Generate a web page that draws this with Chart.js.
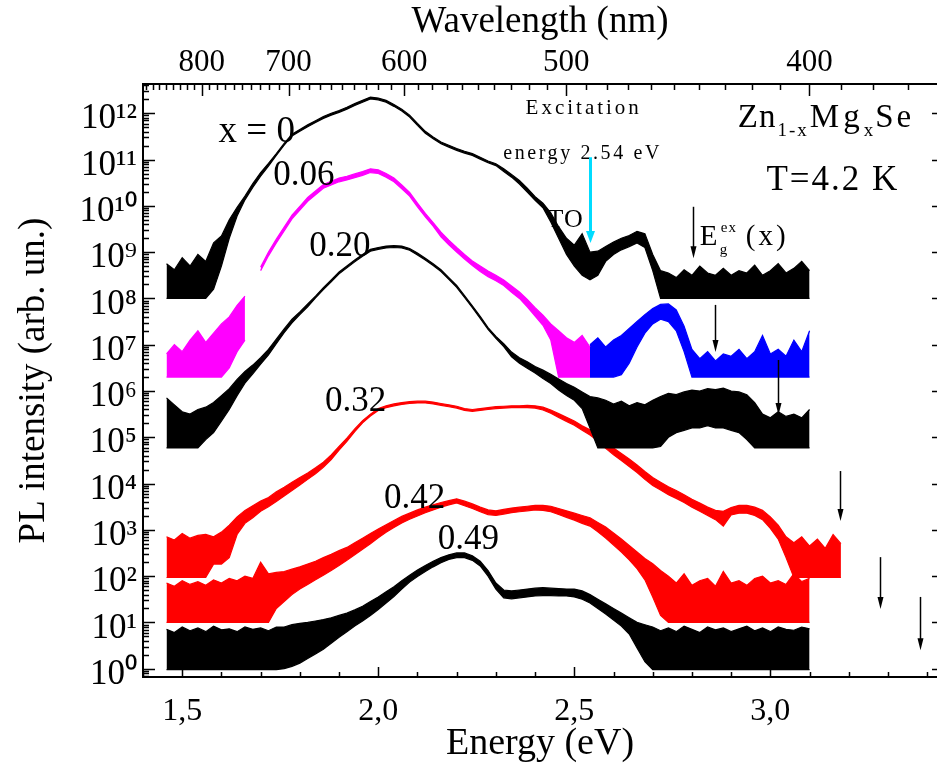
<!DOCTYPE html>
<html>
<head>
<meta charset="utf-8">
<script src="https://cdn.jsdelivr.net/npm/chart.js@4.4.1/dist/chart.umd.min.js"></script>
<style>
html,body{margin:0;padding:0;background:#fff;}
#wrap{width:937px;height:768px;}
</style>
</head>
<body>
<div id="wrap"><canvas id="c" width="937" height="768"></canvas></div>
<script>
// ---------------- DATA ----------------
// Photon energy grid (eV)
const energy = [
  1.46,1.48,1.50,1.52,1.54,1.56,1.58,1.60,1.62,1.64,
  1.66,1.68,1.70,1.72,1.74,1.76,1.78,1.80,1.82,1.84,
  1.86,1.88,1.90,1.92,1.94,1.96,1.98,2.00,2.02,2.04,
  2.06,2.08,2.10,2.12,2.14,2.16,2.18,2.20,2.22,2.24,
  2.26,2.28,2.30,2.32,2.34,2.36,2.38,2.40,2.42,2.44,
  2.46,2.48,2.50,2.52,2.54,2.56,2.58,2.60,2.62,2.64,
  2.66,2.68,2.70,2.72,2.74,2.76,2.78,2.80,2.82,2.84,
  2.86,2.88,2.90,2.92,2.94,2.96,2.98,3.00,3.02,3.04,
  3.06,3.08,3.10,3.12,3.14,3.16,3.18
];
// All intensity arrays: log10(PL intensity), upper and lower envelope of the noisy trace
const x0Upper = [
  8.75,8.62,8.88,8.70,8.95,8.80,9.20,9.35,9.70,9.97,
  10.21,10.48,10.72,10.92,11.13,11.35,11.55,11.65,11.75,11.84,
  11.93,12.00,12.06,12.13,12.21,12.28,12.35,12.33,12.28,12.19,
  12.09,11.96,11.78,11.61,11.49,11.38,11.31,11.24,11.18,11.13,
  11.05,10.97,10.91,10.80,10.68,10.55,10.38,10.20,10.06,9.85,
  9.55,9.30,9.15,9.40,9.00,9.02,9.12,9.22,9.30,9.36,
  9.45,9.40,8.95,8.60,8.55,8.45,8.62,8.50,8.70,8.55,
  8.50,8.65,8.50,8.60,8.55,8.72,8.50,8.60,8.75,8.55,
  8.65,8.80,8.60,null,null,null,null
];
const x0Lower = [
  8.00,8.00,8.00,8.00,8.00,8.00,8.20,8.70,9.30,9.78,
  10.13,10.40,10.64,10.86,11.09,11.31,11.51,11.61,11.71,11.80,
  11.89,11.96,12.02,12.09,12.17,12.24,12.31,12.29,12.24,12.15,
  12.05,11.92,11.74,11.57,11.45,11.34,11.27,11.20,11.14,11.09,
  11.01,10.93,10.87,10.74,10.62,10.47,10.30,10.12,9.96,9.65,
  9.30,8.95,8.70,8.50,8.40,8.50,8.80,8.95,9.05,9.12,
  9.20,9.10,8.60,8.00,8.00,8.00,8.00,8.00,8.00,8.00,
  8.00,8.00,8.00,8.00,8.00,8.00,8.00,8.00,8.00,8.00,
  8.00,8.00,8.00,null,null,null,null
];
// x = 0.06, below the 2.54 eV excitation (magenta)
const x06Upper = [
  6.80,7.00,6.85,7.10,7.30,7.05,7.25,7.45,7.60,7.85,
  8.05,null,8.68,9.00,9.28,9.54,9.80,9.99,10.18,10.32,
  10.46,10.53,10.60,10.64,10.69,10.74,10.80,10.78,10.70,10.60,
  10.45,10.29,10.06,9.84,9.64,9.43,9.26,9.10,8.95,8.81,
  8.70,8.59,8.50,8.40,8.27,8.14,7.98,7.80,7.64,7.45,
  7.30,7.15,7.05,7.20,6.95,null,null,null,null,null,
  null,null,null,null,null,null,null,null,null,null,
  null,null,null,null,null,null,null,null,null,null,
  null,null,null,null,null,null,null
];
const x06Lower = [
  6.30,6.30,6.30,6.30,6.30,6.30,6.30,6.30,6.50,6.85,
  7.10,null,8.60,8.92,9.20,9.46,9.72,9.91,10.10,10.24,
  10.38,10.45,10.52,10.56,10.61,10.66,10.72,10.70,10.62,10.52,
  10.37,10.21,9.98,9.76,9.56,9.33,9.16,9.00,8.85,8.71,
  8.58,8.47,8.38,8.28,8.13,8.00,7.82,7.62,7.42,7.10,
  6.30,6.30,6.30,6.30,6.30,null,null,null,null,null,
  null,null,null,null,null,null,null,null,null,null,
  null,null,null,null,null,null,null,null,null,null,
  null,null,null,null,null,null,null
];
// x = 0.06, above the excitation energy (blue)
const x06hUpper = [
  null,null,null,null,null,null,null,null,null,null,
  null,null,null,null,null,null,null,null,null,null,
  null,null,null,null,null,null,null,null,null,null,
  null,null,null,null,null,null,null,null,null,null,
  null,null,null,null,null,null,null,null,null,null,
  null,null,null,null,7.00,7.15,6.95,7.10,7.20,7.35,
  7.50,7.65,7.78,7.87,7.88,7.75,7.40,6.90,6.70,6.85,
  6.65,6.80,6.75,6.90,6.70,6.85,7.20,6.80,6.90,6.75,
  7.10,6.85,7.30,null,null,null,null
];
const x06hLower = [
  null,null,null,null,null,null,null,null,null,null,
  null,null,null,null,null,null,null,null,null,null,
  null,null,null,null,null,null,null,null,null,null,
  null,null,null,null,null,null,null,null,null,null,
  null,null,null,null,null,null,null,null,null,null,
  null,null,null,null,6.30,6.30,6.30,6.30,6.35,6.60,
  6.95,7.25,7.45,7.55,7.50,7.30,6.85,6.30,6.30,6.30,
  6.30,6.30,6.30,6.30,6.30,6.30,6.30,6.30,6.30,6.30,
  6.30,6.30,6.30,null,null,null,null
];
const x20Upper = [
  5.85,5.70,5.55,5.50,5.60,5.65,5.75,5.90,6.05,6.25,
  6.42,6.56,6.72,6.90,7.12,7.34,7.55,7.71,7.88,8.05,
  8.23,8.40,8.57,8.70,8.83,8.95,9.06,9.10,9.13,9.14,
  9.13,9.08,8.98,8.87,8.75,8.62,8.45,8.28,8.06,7.84,
  7.61,7.37,7.18,7.02,6.84,6.72,6.63,6.53,6.45,6.36,
  6.26,6.16,6.08,5.98,5.88,5.85,5.80,5.72,5.78,5.68,
  5.75,5.70,5.80,5.88,5.95,5.92,5.98,6.02,6.00,6.05,
  6.03,6.06,6.00,5.98,5.92,5.75,5.50,5.42,5.55,5.45,
  5.50,5.42,5.60,null,null,null,null
];
const x20Lower = [
  4.77,4.77,4.77,4.77,4.77,4.95,5.10,5.35,5.60,5.90,
  6.17,6.37,6.58,6.78,7.02,7.26,7.47,7.65,7.82,8.01,
  8.19,8.36,8.53,8.66,8.79,8.91,9.02,9.06,9.09,9.10,
  9.09,9.04,8.94,8.83,8.71,8.58,8.41,8.24,8.02,7.80,
  7.57,7.33,7.14,6.96,6.74,6.60,6.49,6.39,6.27,6.16,
  6.02,5.90,5.80,5.62,5.20,4.77,4.77,4.77,4.77,4.77,
  4.77,4.77,4.77,4.80,5.00,5.10,5.15,5.20,5.20,5.25,
  5.20,5.20,5.15,5.10,4.95,4.77,4.77,4.77,4.77,4.77,
  4.77,4.77,4.77,null,null,null,null
];
const x32Upper = [
  2.85,2.78,2.92,2.82,2.88,2.90,2.85,2.95,3.10,3.28,
  3.42,3.52,3.62,3.70,3.82,3.92,4.03,4.13,4.23,4.34,
  4.46,4.62,4.80,4.98,5.18,5.36,5.50,5.62,5.68,5.72,
  5.75,5.77,5.78,5.78,5.76,5.73,5.70,5.67,5.62,5.60,
  5.62,5.64,5.66,5.67,5.68,5.68,5.69,5.68,5.65,5.59,
  5.51,5.43,5.35,5.25,5.16,5.04,4.90,4.77,4.65,4.53,
  4.40,4.26,4.13,4.03,3.93,3.85,3.76,3.66,3.58,3.49,
  3.42,3.40,3.48,3.53,3.53,3.49,3.42,3.28,3.10,2.85,
  2.72,2.85,2.65,2.80,2.60,2.90,2.70
];
const x32Lower = [
  1.97,1.97,1.97,1.97,1.97,1.97,2.26,2.26,2.40,2.90,
  3.14,3.26,3.40,3.50,3.61,3.73,3.85,3.97,4.09,4.21,
  4.35,4.52,4.72,4.91,5.12,5.31,5.46,5.58,5.64,5.68,
  5.71,5.73,5.74,5.74,5.72,5.69,5.66,5.63,5.58,5.56,
  5.58,5.60,5.62,5.63,5.64,5.64,5.64,5.63,5.59,5.52,
  5.43,5.34,5.26,5.15,5.05,4.92,4.76,4.62,4.50,4.37,
  4.24,4.09,3.96,3.86,3.76,3.68,3.59,3.49,3.40,3.31,
  3.22,3.08,3.32,3.36,3.36,3.31,3.22,3.03,2.80,2.40,
  1.97,1.97,1.97,1.97,1.97,1.97,1.97
];
const x42Upper = [
  1.85,1.78,1.90,1.82,1.88,1.80,1.92,1.85,1.95,1.90,
  2.00,1.95,2.30,2.05,2.08,2.10,2.15,2.20,2.26,2.32,
  2.40,2.47,2.55,2.62,2.72,2.82,2.92,3.02,3.11,3.20,
  3.29,3.36,3.43,3.49,3.54,3.59,3.63,3.67,3.62,3.56,
  3.49,3.43,3.41,3.44,3.47,3.49,3.51,3.53,3.53,3.51,
  3.46,3.41,3.36,3.31,3.26,3.16,3.06,2.93,2.80,2.66,
  2.52,2.38,2.27,2.12,2.00,1.85,2.05,1.80,1.90,1.95,
  1.78,2.10,1.85,1.90,1.80,1.95,2.00,1.85,1.90,1.82,
  2.05,1.88,1.95,null,null,null,null
];
const x42Lower = [
  1.00,1.00,1.00,1.00,1.00,1.00,1.00,1.00,1.00,1.00,
  1.00,1.00,1.00,1.00,1.30,1.45,1.60,1.72,1.82,1.92,
  2.02,2.12,2.23,2.34,2.46,2.58,2.70,2.83,2.95,3.05,
  3.15,3.23,3.30,3.37,3.43,3.49,3.54,3.58,3.52,3.46,
  3.39,3.33,3.31,3.34,3.37,3.39,3.41,3.43,3.42,3.39,
  3.33,3.27,3.21,3.14,3.08,2.96,2.82,2.67,2.52,2.35,
  2.16,1.92,1.55,1.15,1.00,1.00,1.00,1.00,1.00,1.00,
  1.00,1.00,1.00,1.00,1.00,1.00,1.00,1.00,1.00,1.00,
  1.00,1.00,1.00,null,null,null,null
];
const x49Upper = [
  0.85,0.78,0.90,0.82,0.88,0.80,0.92,0.84,0.86,0.80,
  0.90,0.85,0.88,0.82,0.90,0.90,0.95,0.98,1.00,1.03,
  1.06,1.10,1.15,1.20,1.27,1.35,1.45,1.55,1.66,1.77,
  1.90,2.02,2.13,2.23,2.32,2.40,2.46,2.50,2.50,2.44,
  2.32,2.12,1.85,1.70,1.68,1.70,1.72,1.74,1.75,1.74,
  1.73,1.72,1.72,1.68,1.60,1.50,1.40,1.30,1.20,1.10,
  1.00,0.95,0.90,0.82,0.88,0.80,0.92,0.85,0.78,0.90,
  0.84,0.88,0.80,0.86,0.92,0.82,0.88,0.80,0.90,0.85,
  0.83,0.90,0.86,null,null,null,null
];
const x49Lower = [
  -0.02,-0.02,-0.02,-0.02,-0.02,-0.02,-0.02,-0.02,-0.02,-0.02,
  -0.02,-0.02,-0.02,-0.02,-0.02,0.00,0.05,0.12,0.22,0.32,
  0.42,0.55,0.68,0.80,0.92,1.03,1.15,1.28,1.42,1.56,
  1.72,1.87,1.99,2.10,2.20,2.29,2.36,2.40,2.40,2.34,
  2.22,2.00,1.72,1.53,1.51,1.53,1.55,1.57,1.58,1.58,
  1.57,1.57,1.55,1.50,1.42,1.30,1.18,1.05,0.92,0.75,
  0.45,0.15,-0.02,-0.02,-0.02,-0.02,-0.02,-0.02,-0.02,-0.02,
  -0.02,-0.02,-0.02,-0.02,-0.02,-0.02,-0.02,-0.02,-0.02,-0.02,
  -0.02,-0.02,-0.02,null,null,null,null
];
// Axis ticks
const energyTicks = [1.5, 2.0, 2.5, 3.0];
const wavelengthTicks = [800, 700, 600, 500, 400];
const decadeExponents = [0,1,2,3,4,5,6,7,8,9,10,11,12];
// Band-gap exciton energies marked by arrows (eV), arrow top / tip in log10 units
const arrowEnergy = [2.802, 2.860, 3.019, 3.177, 3.279, 3.381];
const arrowTop    = [9.98, 7.86, 6.67, 4.27, 2.41, 1.55];
const arrowTip    = [8.87, 6.84, 5.48, 3.19, 1.29, 0.40];
const excitationEnergy = 2.54;

// ---------------- CHART ----------------
const HC = 1239.84;
const FONT = "'Liberation Serif', 'Times New Roman', Times, serif";
Chart.defaults.font.family = FONT;
Chart.defaults.color = '#000';
const F = size => ({family: FONT, size: size, weight: 'normal'});

const SUP = {'0':'\u2070','1':'\u00B9','2':'\u00B2','3':'\u00B3','4':'\u2074','5':'\u2075','6':'\u2076','7':'\u2077','8':'\u2078','9':'\u2079','-':'\u207B'};
const sup = n => String(n).split('').map(c => SUP[c]).join('');

function band(upper, lower, color, name) {
  const pts = arr => energy.map((e, i) => ({x: e, y: arr[i] === null ? null : Math.pow(10, arr[i])}));
  return [
    {label: name, data: pts(upper), borderColor: color, backgroundColor: color, borderWidth: 1.2,
     pointRadius: 0, fill: '+1', spanGaps: false, tension: 0},
    {label: name + ' (lower)', data: pts(lower), borderColor: color, backgroundColor: color, borderWidth: 1.2,
     pointRadius: 0, fill: false, spanGaps: false, tension: 0}
  ];
}

const datasets = [
  ...band(x0Upper, x0Lower, '#000000', 'x = 0'),
  ...band(x06Upper, x06Lower, '#ff00ff', 'x = 0.06'),
  ...band(x06hUpper, x06hLower, '#0000ff', 'x = 0.06 (above excitation)'),
  ...band(x20Upper, x20Lower, '#000000', 'x = 0.20'),
  ...band(x32Upper, x32Lower, '#ff0000', 'x = 0.32'),
  ...band(x42Upper, x42Lower, '#ff0000', 'x = 0.42'),
  ...band(x49Upper, x49Lower, '#000000', 'x = 0.49')
];

// label placement (data units: energy, log10 intensity)
const curveLabels = [
  {text: 'x = 0', e: 1.690, l: 11.58, size: 37},
  {text: '0.06', e: 1.810, l: 10.66, size: 35},
  {text: '0.20', e: 1.902, l: 9.11, size: 35},
  {text: '0.32', e: 1.942, l: 5.76, size: 35},
  {text: '0.42', e: 2.093, l: 3.66, size: 35},
  {text: '0.49', e: 2.230, l: 2.78, size: 35}
];

function txt(ctx, s, x, y, size, ls, align, base) {
  ctx.font = size + 'px ' + FONT;
  ctx.textAlign = align || 'left';
  ctx.textBaseline = base || 'alphabetic';
  if ('letterSpacing' in ctx) ctx.letterSpacing = (ls || 0) + 'px';
  ctx.fillText(s, x, y);
  const w = ctx.measureText(s).width;
  if ('letterSpacing' in ctx) ctx.letterSpacing = '0px';
  return w;
}
function arrow(ctx, x, y1, y2, color, lw, hw, hl) {
  ctx.save();
  ctx.strokeStyle = color; ctx.fillStyle = color; ctx.lineWidth = lw;
  ctx.beginPath(); ctx.moveTo(x, y1); ctx.lineTo(x, y2 - hl + 1); ctx.stroke();
  ctx.beginPath(); ctx.moveTo(x - hw / 2, y2 - hl); ctx.lineTo(x + hw / 2, y2 - hl); ctx.lineTo(x, y2); ctx.closePath(); ctx.fill();
  ctx.restore();
}

const annotations = {
  id: 'annotations',
  afterDatasetsDraw(chart) {
    const {ctx, scales} = chart;
    const px = e => scales.x.getPixelForValue(e);
    const py = l => scales.y.getPixelForValue(Math.pow(10, l));
    ctx.save();
    ctx.fillStyle = '#000';
    curveLabels.forEach(c => txt(ctx, c.text, px(c.e), py(c.l), c.size, 0, 'center', 'middle'));
    // excitation
    txt(ctx, 'Excitation', px(2.524), py(12.10), 21, 3, 'center', 'middle');
    txt(ctx, 'energy 2.54 eV', px(2.521), py(11.12), 20, 2.6, 'center', 'middle');
    arrow(ctx, Math.round(px(excitationEnergy)) + 0.5, py(11.05), py(9.20), '#00dcff', 3, 9, 12);
    ctx.fillStyle = '#000';
    txt(ctx, 'TO', px(2.478), py(9.69), 26, 1, 'center', 'middle');
    // band-gap arrows
    arrowEnergy.forEach((e, i) => arrow(ctx, Math.round(px(e)) + 0.5, py(arrowTop[i]), py(arrowTip[i]), '#000', 1.5, 6, 12));
    ctx.fillStyle = '#000';
    // Eg^ex(x)
    const ex = px(2.820), ey = py(9.15);
    txt(ctx, 'E', ex, ey, 29, 0);
    txt(ctx, 'g', ex + 20, ey + 9, 15, 0);
    txt(ctx, 'ex', ex + 21, ey - 13, 15, 1);
    txt(ctx, '(x)', ex + 46, ey, 29, 3);
    // Zn1-xMgxSe
    let zx = px(2.917);
    const zy = py(11.70);
    zx += txt(ctx, 'Zn', zx, zy, 33, 1);
    zx += txt(ctx, '1-x', zx + 1, zy + 9, 19, 2) + 2;
    zx += txt(ctx, 'Mg', zx, zy, 33, 4);
    zx += txt(ctx, 'x', zx, zy + 9, 19, 0) + 2;
    txt(ctx, 'Se', zx, zy, 33, 3);
    txt(ctx, 'T=4.2 K', px(2.990), py(10.34), 35, 2);
    ctx.restore();
  }
};

const frameTicks = {
  id: 'frameTicks',
  afterDraw(chart) {
    const {ctx, chartArea: a, scales} = chart;
    const xs = scales.x, ys = scales.y;
    ctx.save();
    ctx.strokeStyle = '#000';
    ctx.lineWidth = 1.5;
    ctx.beginPath();
    for (let n = -1; n <= 12; n++) {
      for (let k = 1; k <= 9; k++) {
        const v = k * Math.pow(10, n);
        if (v < ys.min || v > ys.max) continue;
        const y = Math.round(ys.getPixelForValue(v)) + 0.5;
        const len = k === 1 ? 12 : 6;
        ctx.moveTo(a.left, y); ctx.lineTo(a.left + len, y);
        if (k === 1) { ctx.moveTo(a.right, y); ctx.lineTo(a.right - 5, y); }
      }
    }
    for (let i = 14; i <= 34; i++) {
      const x = Math.round(xs.getPixelForValue(i / 10)) + 0.5;
      const len = i % 5 === 0 ? 10 : 5;
      ctx.moveTo(x, a.bottom); ctx.lineTo(x, a.bottom - len);
    }
    for (let w = 370; w <= 880; w += 10) {
      const e = HC / w;
      if (e < xs.min || e > xs.max) continue;
      const x = Math.round(xs.getPixelForValue(e)) + 0.5;
      const len = w % 100 === 0 ? 12 : 6;
      ctx.moveTo(x, a.top); ctx.lineTo(x, a.top + len);
    }
    ctx.stroke();
    ctx.restore();
  }
};

new Chart(document.getElementById('c'), {
  type: 'line',
  data: {datasets},
  plugins: [annotations, frameTicks],
  options: {
    responsive: false,
    animation: false,
    devicePixelRatio: 1,
    layout: {padding: 0},
    plugins: {legend: {display: false}, tooltip: {enabled: false}},
    scales: {
      x: {
        type: 'linear', position: 'bottom', min: 1.4, max: 3.425, bounds: 'data',
        grid: {display: false, drawTicks: false},
        border: {display: true, width: 2, color: '#000'},
        afterBuildTicks: s => { s.ticks = energyTicks.map(v => ({value: v})); },
        afterFit: s => { s.height = 91; },
        ticks: {autoSkip: false, maxRotation: 0, padding: 15, font: F(32), color: '#000',
                callback: (v, i) => energyTicks[i].toFixed(1).replace('.', ',')},
        title: {display: true, text: 'Energy (eV)', font: F(38), color: '#000', padding: {top: 0, bottom: 1}}
      },
      x2: {
        type: 'linear', position: 'top', min: 1.4, max: 3.425, bounds: 'data',
        grid: {display: false, drawTicks: false},
        border: {display: true, width: 2, color: '#000'},
        afterBuildTicks: s => { s.ticks = wavelengthTicks.map(w => ({value: HC / w})); },
        afterFit: s => { s.height = 84; },
        ticks: {autoSkip: false, maxRotation: 0, padding: 3, font: F(31), color: '#000',
                callback: (v, i) => String(wavelengthTicks[i])},
        title: {display: true, text: 'Wavelength (nm)', font: F(37), color: '#000', padding: {top: 0, bottom: 0}}
      },
      y: {
        type: 'logarithmic', position: 'left', min: Math.pow(10, -0.18), max: Math.pow(10, 12.633), bounds: 'data',
        grid: {display: false, drawTicks: false},
        border: {display: true, width: 2, color: '#000'},
        afterBuildTicks: s => { s.ticks = decadeExponents.map(n => ({value: Math.pow(10, n)})); },
        afterFit: s => { s.width = 143; },
        ticks: {autoSkip: false, padding: 6, labelOffset: 6, font: F(35), color: '#000',
                callback: (v, i) => '10' + sup(decadeExponents[i])},
        title: {display: true, text: 'PL intensity (arb. un.)', font: F(37), color: '#000', padding: {top: 12, bottom: 0}}
      }
    }
  }
});
</script>
</body>
</html>
